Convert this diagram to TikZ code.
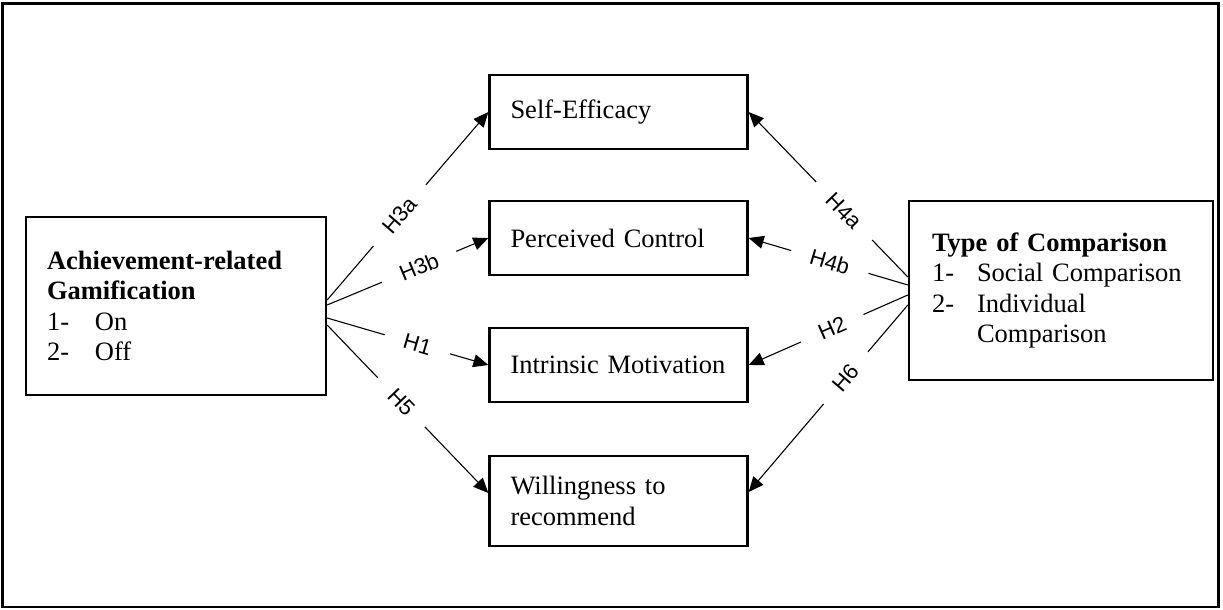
\documentclass[tikz,border=0pt]{standalone}
\usepackage{fontspec}
\setmainfont{Liberation Serif}
\newfontfamily\labelfont{Liberation Sans}
\usetikzlibrary{arrows.meta}
\begin{document}
\begin{tikzpicture}[x=0.5pt,y=-0.5pt,
  box/.style={draw=black,line width=1.15pt,align=left,inner ysep=0pt,
    font=\fontsize{13.25}{15.2}\selectfont},
  midbox/.style={box,inner xsep=10.5pt,text width=108pt,minimum height=37pt},
  conn/.style={line width=0.55pt,-{Triangle[length=7.5pt,width=6.5pt]}},
  hlab/.style={fill=white,inner xsep=10pt,inner ysep=1.5pt,sloped,
    font=\labelfont\fontsize{11}{12}\selectfont}
]
\useasboundingbox (0,0) rectangle (1223,610);
\draw[line width=1.35pt] (2.5,3.5) rectangle (1218.5,607);

\node[box,inner xsep=10.5pt,text width=129pt,minimum height=89pt] (L) at (176,306)
  {\textbf{Achievement-related}\\\textbf{Gamification}\\\makebox[24pt][l]{1-}On\\\makebox[24pt][l]{2-}Off};
\node[box,inner xsep=11.5pt,text width=129pt,minimum height=89.5pt] (R) at (1061,290.5)
  {\textbf{Type of Comparison}\\\makebox[22.5pt][l]{1-}Social Comparison\\\makebox[22.5pt][l]{2-}Individual\\\hspace*{22.5pt}Comparison};

\node[midbox] (SE) at (618.5,112) {Self-Efficacy};
\node[midbox] (PC) at (618.5,238) {Perceived Control};
\node[midbox] (IM) at (618.5,365) {Intrinsic Motivation};
\node[midbox,minimum height=45pt] (W) at (618.5,501) {Willingness to\\recommend};

\draw[conn] ([yshift=3pt]L.east) -- node[hlab,pos=0.45]{H3a} (SE.west);
\draw[conn] ([yshift=0.5pt]L.east) -- node[hlab,pos=0.57]{H3b} (PC.west);
\draw[conn] ([yshift=-6pt]L.east) -- node[hlab,pos=0.56]{H1} (IM.west);
\draw[conn] ([yshift=-9.5pt]L.east) -- node[hlab,pos=0.46]{H5} ([yshift=4pt]W.west);

\draw[conn] ([yshift=6.75pt]R.west) -- node[hlab,pos=0.40]{H4a} (SE.east);
\draw[conn] ([yshift=2.75pt]R.west) -- node[hlab,pos=0.49]{H4b} (PC.east);
\draw[conn] ([yshift=-2.25pt]R.west) -- node[hlab,pos=0.475]{H2} (IM.east);
\draw[conn] ([yshift=-7.25pt]R.west) -- node[hlab,pos=0.39]{H6} ([yshift=4.5pt]W.east);
\end{tikzpicture}
\end{document}
